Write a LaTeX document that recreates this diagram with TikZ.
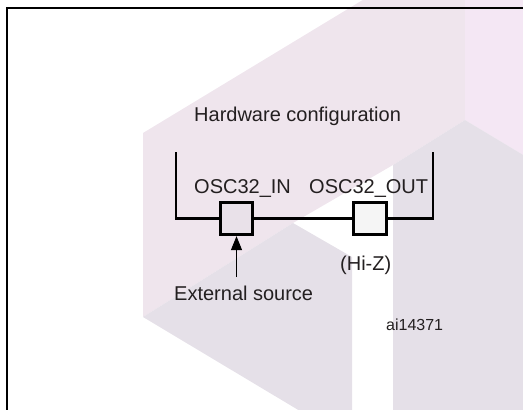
\documentclass[tikz,border=0pt]{standalone}
\usepackage{fontspec}
\setmainfont{Liberation Sans}
\usetikzlibrary{arrows.meta}
\definecolor{wmpink}{RGB}{239,229,237}
\definecolor{wmgrey}{RGB}{229,224,232}
\definecolor{wmlav}{RGB}{244,231,244}
\definecolor{txt}{RGB}{35,31,32}
\definecolor{pinfillA}{RGB}{233,225,233}
\definecolor{pinfillB}{RGB}{245,245,245}
\begin{document}
\begin{tikzpicture}[x=1pt,y=-1pt,
  lbl/.style={inner sep=0pt,anchor=base west,text=txt,font=\fontsize{20}{24}\selectfont},
  pin/.style={draw=black,line width=2.8pt,minimum size=32.5pt,inner sep=0pt},
  wire/.style={draw=black,line width=2.6pt},
  frameline/.style={draw=black,line width=2pt},
  srcarrow/.style={draw=black,line width=1pt,-{Triangle[length=14pt,width=11pt]}}]
\useasboundingbox (0,0) rectangle (523,410);
\clip (0,0) rectangle (523,410);
% watermark
\fill[wmpink] (143,133) -- (366,-2) -- (465,-2) -- (465,120) -- (393,165) -- (293,223) -- (143,317) -- cycle;
\fill[wmlav] (465,-2) -- (530,-2) -- (530,159) -- (465,120) -- cycle;
\fill[wmgrey] (393,165) -- (465,120) -- (530,159) -- (530,420) -- (393,420) -- cycle;
\fill[wmgrey] (143,317) -- (293,223) -- (352,257) -- (352,420) -- (315,420) -- cycle;
% frame
\draw[frameline] (7,420) -- (7,8) -- (530,8);
% pins
\node[pin,fill=pinfillA] (in) at (236.5,218.5) {};
\node[pin,fill=pinfillB] (out) at (370,218.5) {};
\coordinate (lt) at (176,152);
\coordinate (rt) at (433,152);
\coordinate (src) at (236.5,277);
\draw[wire] (lt) |- (in.west);
\draw[wire] (in.east) -- (out.west);
\draw[wire] (out.east) -| (rt);
\draw[srcarrow] (src) -- (in.south);
% labels
\node[lbl] (hw) at (194,121) {Hardware configuration};
\node[lbl] (inl) at (194,193) {OSC32\_IN};
\node[lbl] (outl) at (309,193) {OSC32\_OUT};
\node[lbl] (hiz) at (340,270) {(Hi-Z)};
\node[lbl] (ext) at (174,300) {External source};
\node[lbl,font=\fontsize{16}{19}\selectfont] (ai) at (386,330) {ai14371};
\end{tikzpicture}
\end{document}
